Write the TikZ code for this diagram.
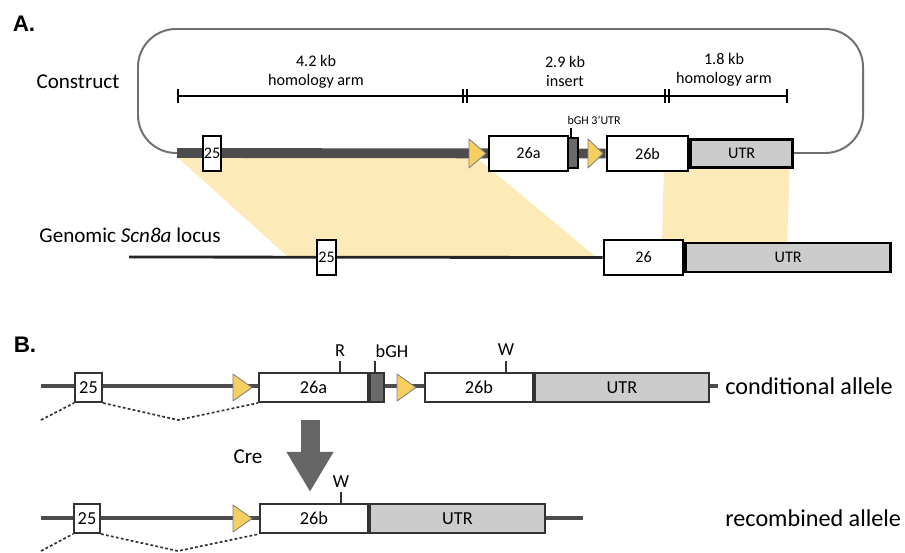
\documentclass[tikz,border=0pt]{standalone}
\usepackage{fontspec}
\setmainfont{Carlito}
\newfontfamily\panelfont{Liberation Sans}
\usetikzlibrary{arrows.meta}
\definecolor{dnadark}{HTML}{4D4D4D}
\definecolor{loopgray}{HTML}{707070}
\definecolor{utrgray}{HTML}{CCCCCC}
\definecolor{bghgray}{HTML}{6A6A6A}
\definecolor{loxyellow}{HTML}{F5D061}
\definecolor{homshade}{HTML}{FCEBB8}
\definecolor{outlineB}{HTML}{333333}

\begin{document}
\begin{tikzpicture}[
		x=0.025cm, y=-0.025cm,
		exonA/.style={draw=black, line width=1.9pt, fill=white, inner sep=0pt, minimum height=0.875cm, font=\fontsize{11.5}{13}\selectfont},
		utrA/.style={exonA, fill=utrgray, minimum height=0.7cm},
		bghA/.style={exonA, fill=bghgray, minimum height=0.75cm, minimum width=0.25cm},
		exonB/.style={draw=outlineB, line width=1.4pt, fill=white, inner sep=0pt, minimum height=0.725cm, font=\fontsize{13}{15}\selectfont},
		utrB/.style={exonB, fill=utrgray},
		loxp/.style={fill=loxyellow, draw=black!50, line width=0.6pt, line join=round},
		barline/.style={line width=1.6pt, black},
		barlabel/.style={align=center, font=\fontsize{11.5}{13.5}\selectfont},
		rowlabel/.style={font=\fontsize{15}{18}\selectfont},
		allele/.style={anchor=west, inner sep=0pt, font=\fontsize{17.2}{20}\selectfont},
		mutlabel/.style={font=\fontsize{13}{15}\selectfont, inner sep=1pt},
		tick/.style={line width=1.2pt, outlineB},
		splice/.style={line width=1.2pt, outlineB, dash pattern=on 2pt off 1.6pt},
		panel/.style={font=\panelfont\bfseries\fontsize{16}{18}\selectfont}
		]
		\useasboundingbox (0,0) rectangle (905,552);
		
		% ---- panel A ----
		\node[panel] (labA) at (24,24) {A.};
		\node[rowlabel] (construct) at (78,82) {Construct};
		\node[rowlabel] (genomic) at (130,235) {Genomic \textit{Scn8a} locus};
		
		% shaded homology regions
		\fill[homshade] (178,158) -- (477,158) -- (596,257) -- (288,257) -- cycle;
		\fill[homshade] (664,160) -- (790,160) -- (787,245) -- (662,245) -- cycle;
		
		% vector backbone
		\coordinate (loopL) at (177,153);
		\coordinate (loopR) at (790,153);
		\draw[loopgray, line width=1.4pt, rounded corners=0.95cm] (loopL) -- (138,153) -- (138,29) -- (863,29) -- (863,153) -- (loopR);
		
		% scale bars
		\coordinate (barL) at (178,96);
		\coordinate (barR) at (787,96);
		\draw[barline] (barL) -- (barR);
		\foreach \x in {178,463,467,665,669,787}
			\draw[barline] (\x,89) -- (\x,103);
		\node[barlabel] (arm1) at (316,72) {4.2 kb\\homology arm};
		\node[barlabel] (ins) at (565,71) {2.9 kb\\insert};
		\node[barlabel] (arm2) at (724,70) {1.8 kb\\homology arm};
		
		% construct
		\node[exonA, minimum width=2.025cm] (c26b) at (647.5,153.5) {26b};
		\draw[dnadark, line width=7pt] (loopL) -- (c26b.west);
		\node[exonA, minimum width=0.45cm] (c25) at (212,153.5) {25};
		\node[exonA, minimum width=1.975cm] (c26a) at (528.5,153.5) {26a};
		\node[bghA] (cbgh) at (573,153) {};
		\node[utrA, minimum width=2.55cm, anchor=west] (cutr) at (c26b.east) {UTR};
		\draw[loxp] (469,139) -- (469,168) -- (486,153.5) -- cycle;
		\draw[loxp] (588,139) -- (588,168) -- (603,153.5) -- cycle;
		\node[font=\fontsize{8.5}{10}\selectfont, inner sep=1pt] (bghtext) at (594,120) {bGH 3’UTR};
		\draw[line width=1pt] (571,128) -- (cbgh.north -| 571,0);
		
		% genomic locus
		\coordinate (genL) at (129,257);
		\node[exonA, minimum width=1.975cm] (g26) at (643.5,257.5) {26};
		\draw[black!85, line width=2pt] (genL) -- (g26.west);
		\node[exonA, minimum width=0.475cm] (g25) at (326.5,257.5) {25};
		\node[utrA, minimum width=5.125cm, minimum height=0.725cm, anchor=west] (gutr) at (g26.east) {UTR};
		
		% ---- panel B ----
		\node[panel] (labB) at (25,345) {B.};
		
		% conditional allele
		\coordinate (condL) at (41,386);
		\coordinate (condR) at (718,386);
		\draw[dnadark, line width=3.5pt] (condL) -- (condR);
		\node[exonB, minimum width=0.675cm] (b25) at (88.5,387.5) {25};
		\node[exonB, minimum width=2.725cm] (b26a) at (313.5,387.5) {26a};
		\node[exonB, fill=bghgray, minimum width=0.35cm, anchor=west] (bbgh) at (b26a.east) {};
		\node[exonB, minimum width=2.7cm] (b26b) at (479,387.5) {26b};
		\node[utrB, minimum width=4.35cm, anchor=west] (butr) at (b26b.east) {UTR};
		\draw[loxp] (233,374) -- (233,401) -- (252,387.5) -- cycle;
		\draw[loxp] (397,374) -- (397,401) -- (416,387.5) -- cycle;
		\node[mutlabel] (mutR) at (340,351) {R};
		\node[mutlabel] (mutbgh) at (392,351) {bGH};
		\node[mutlabel] (mutW) at (506,350) {W};
		\draw[tick] (340,361) -- (340,373);
		\draw[tick] (375,361) -- (375,373);
		\draw[tick] (506,361) -- (506,373);
		\node[allele] (cond) at (725,386) {conditional allele};
		\coordinate (sp1) at (41,420);
		\coordinate (sp2) at (178,420);
		\draw[splice] (sp1) -- (b25.south west);
		\draw[splice] (b25.south east) -- (sp2) -- (b26a.south west);
		
		% Cre arrow
		\coordinate (creTop) at (310,420);
		\coordinate (creTip) at (310,492);
		\draw[black!60, line width=0.475cm, -{Triangle[width=1.1cm, length=1cm]}] (creTop) -- (creTip);
		\node[font=\fontsize{15}{18}\selectfont] (cre) at (248,457) {Cre};
		
		% recombined allele
		\coordinate (recL) at (41,518);
		\coordinate (recR) at (583,518);
		\draw[dnadark, line width=3.5pt] (recL) -- (recR);
		\node[exonB, minimum width=0.65cm] (r25) at (87,518.5) {25};
		\node[exonB, minimum width=2.7cm] (r26b) at (314,518.5) {26b};
		\node[utrB, minimum width=4.375cm, anchor=west] (rutr) at (r26b.east) {UTR};
		\draw[loxp] (233,505) -- (233,532) -- (252,518.5) -- cycle;
		\node[mutlabel] (recW) at (341,482) {W};
		\draw[tick] (341,492) -- (341,504);
		\node[allele] (rec) at (725,518) {recombined allele};
		\coordinate (sp3) at (41,551);
		\coordinate (sp4) at (178,551);
		\draw[splice] (sp3) -- (r25.south west);
		\draw[splice] (r25.south east) -- (sp4) -- (r26b.south west);
	\end{tikzpicture}
\end{document}
